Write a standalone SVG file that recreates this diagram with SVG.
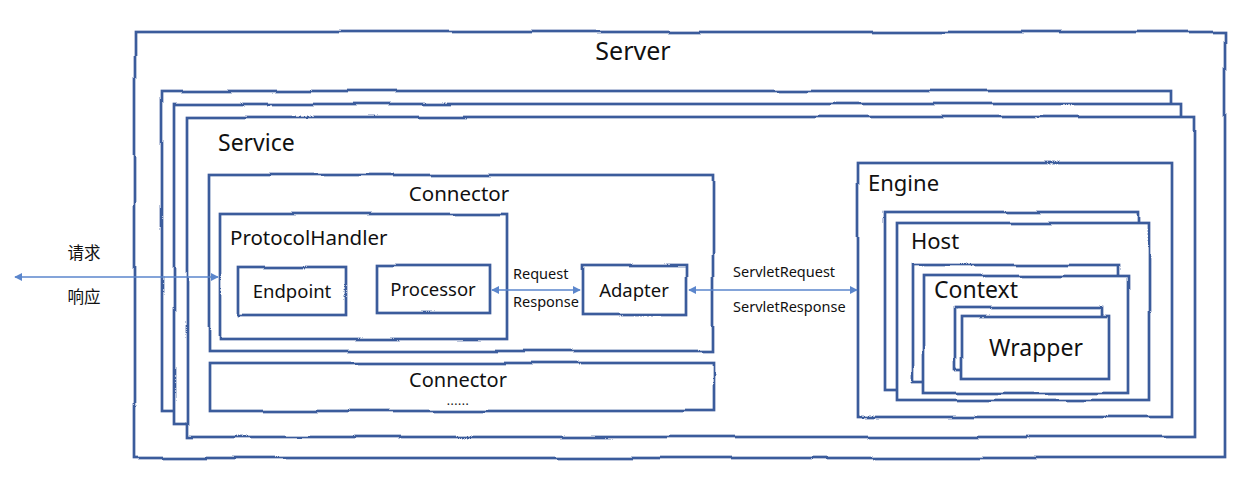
<svg xmlns="http://www.w3.org/2000/svg" width="1250" height="486" viewBox="0 0 1250 486">
<defs>
<filter id="rough" filterUnits="userSpaceOnUse" x="0" y="0" width="1250" height="486">
<feTurbulence type="fractalNoise" baseFrequency="0.012" numOctaves="1" seed="11" result="n"/>
<feDisplacementMap in="SourceGraphic" in2="n" scale="5" xChannelSelector="R" yChannelSelector="G"/>
</filter>
<marker id="ah" viewBox="0 0 10 10" refX="9" refY="5" markerWidth="8" markerHeight="8" markerUnits="userSpaceOnUse" orient="auto-start-reverse">
<path d="M0,0 L10,5 L0,10 z" fill="#5B86CC"/>
</marker>
<style>
.box{fill:#fff;stroke:#3B5C9C;stroke-width:2.7;filter:url(#rough)}
.t{font-family:"Noto Sans","Noto Sans CJK SC",sans-serif;fill:#111}
.lnk{stroke:#5B86CC;stroke-width:1.6;fill:none;marker-start:url(#ah);marker-end:url(#ah)}
</style>
</defs>
<rect width="1250" height="486" fill="#fff"/>
<g id="server">
<rect class="box" x="135" y="32" width="1090" height="426"/>
<text class="t" x="633" y="60" font-size="25" text-anchor="middle">Server</text>
</g>
<g id="service">
<rect class="box" x="162" y="91" width="1009" height="320"/>
<rect class="box" x="174" y="104" width="1008" height="320"/>
<rect class="box" x="187" y="117" width="1008" height="320"/>
<text class="t" x="218" y="151" font-size="23">Service</text>
</g>
<g id="connector1">
<rect class="box" x="209" y="175" width="504" height="176"/>
<text class="t" x="459" y="201" font-size="20.5" text-anchor="middle">Connector</text>
</g>
<g id="protocolhandler">
<rect class="box" x="220" y="214" width="287" height="125"/>
<text class="t" x="230" y="245" font-size="20.5">ProtocolHandler</text>
</g>
<g id="endpoint">
<rect class="box" x="239" y="267" width="107" height="48"/>
<text class="t" x="292" y="298" font-size="18.5" text-anchor="middle">Endpoint</text>
</g>
<g id="processor">
<rect class="box" x="377" y="265" width="113" height="48"/>
<text class="t" x="433" y="296" font-size="18.5" text-anchor="middle">Processor</text>
</g>
<g id="adapter">
<rect class="box" x="582" y="265" width="105" height="49"/>
<text class="t" x="634" y="297" font-size="18.5" text-anchor="middle">Adapter</text>
</g>
<g id="connector2">
<rect class="box" x="209" y="363" width="505" height="48"/>
<text class="t" x="458" y="387" font-size="20" text-anchor="middle">Connector</text>
<text class="t" x="458" y="405" font-size="12" text-anchor="middle" letter-spacing="0.5">......</text>
</g>
<g id="engine">
<rect class="box" x="858" y="163" width="314" height="254"/>
<text class="t" x="868" y="191" font-size="22">Engine</text>
</g>
<g id="host">
<rect class="box" x="885" y="212" width="253" height="178"/>
<rect class="box" x="897" y="223" width="252" height="177"/>
<text class="t" x="911" y="249" font-size="22">Host</text>
</g>
<g id="context">
<rect class="box" x="913" y="265" width="205" height="117"/>
<rect class="box" x="924" y="276" width="204" height="117"/>
<text class="t" x="934" y="298" font-size="23">Context</text>
</g>
<g id="wrapper">
<rect class="box" x="956" y="308" width="146" height="61"/>
<rect class="box" x="963" y="317" width="146" height="61"/>
<text class="t" x="1036" y="356" font-size="23" text-anchor="middle">Wrapper</text>
</g>
<g id="connectors">
<line class="lnk" x1="15" y1="277" x2="218" y2="277"/>
<text class="t" x="84" y="259" font-size="16.5" text-anchor="middle">请求</text>
<text class="t" x="84" y="303" font-size="16.5" text-anchor="middle">响应</text>
<line class="lnk" x1="492" y1="290" x2="580" y2="290"/>
<text class="t" x="513" y="279" font-size="14.5">Request</text>
<text class="t" x="513" y="307" font-size="14.5">Response</text>
<line class="lnk" x1="689" y1="290" x2="857" y2="290"/>
<text class="t" x="733" y="277" font-size="14.5">ServletRequest</text>
<text class="t" x="733" y="312" font-size="14.5">ServletResponse</text>
</g>
</svg>
